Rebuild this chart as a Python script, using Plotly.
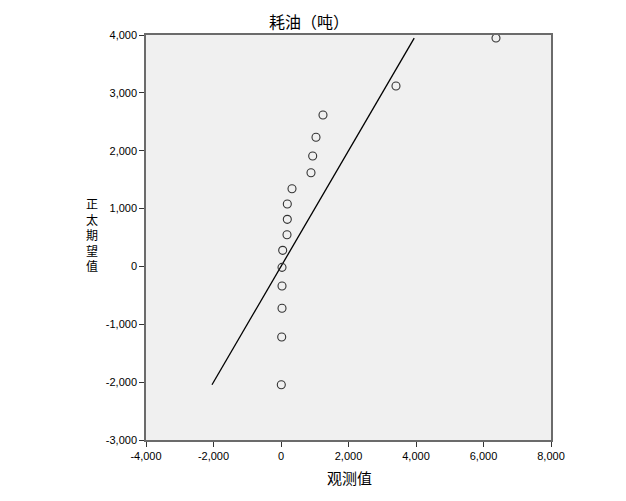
import plotly.graph_objects as go

observed = [9, 21, 30, 30, 30, 50, 178, 187, 187, 326, 889, 939, 1037, 1244, 3407, 6370]
expected = [-2045, -1220, -724, -339, -16, 278, 548, 814, 1078, 1343, 1619, 1908, 2233, 2617, 3118, 3947]

x_tickvals = [-4000, -2000, 0, 2000, 4000, 6000, 8000]
x_ticktext = ["-4,000", "-2,000", "0", "2,000", "4,000", "6,000", "8,000"]
y_tickvals = [-3000, -2000, -1000, 0, 1000, 2000, 3000, 4000]
y_ticktext = ["-3,000", "-2,000", "-1,000", "0", "1,000", "2,000", "3,000", "4,000"]

title_text = "耗油（吨）"
x_title = "观测值"
y_title = "正太期望值"

ref_line = [min(expected), max(expected)]

fig = go.Figure()
fig.add_trace(go.Scatter(
    x=ref_line, y=ref_line, mode="lines",
    line=dict(color="black", width=1.3), hoverinfo="skip", showlegend=False))
fig.add_trace(go.Scatter(
    x=observed, y=expected, mode="markers",
    marker=dict(symbol="circle-open", size=8, color="#333333", line=dict(width=1.1)),
    showlegend=False))

axis_common = dict(
    showgrid=False, zeroline=False, showline=True, mirror=True,
    linecolor="#6b6b6b", linewidth=1.5,
    ticks="outside", ticklen=5, tickwidth=1, tickcolor="#333333",
    tickfont=dict(family="Liberation Sans, Arial", size=11, color="black"),
)

cjk = dict(family="Noto Sans CJK SC", color="black")

# page body has an 8px margin; plot area should land at x 146..551, y 35..440
annotations = [
    dict(text=x_title, xref="paper", yref="paper", x=(349 - 146) / 405, y=(440 - 477) / 405,
         xanchor="center", yanchor="middle", showarrow=False, font=dict(size=15, **cjk)),
    dict(text="<br>".join(list(y_title)), xref="paper", yref="paper",
         x=(92 - 146) / 405, y=(440 - 234) / 405,
         xanchor="center", yanchor="middle", showarrow=False, align="center",
         font=dict(size=12, **cjk)),
]

fig.update_layout(
    width=626, height=501,
    margin=dict(l=138, r=83, t=27, b=69),
    paper_bgcolor="white", plot_bgcolor="#F0F0F0",
    title=dict(text=title_text, x=301 / 626, xref="container", xanchor="center",
               y=1 - 14 / 501, yref="container", yanchor="middle",
               font=dict(size=16, **cjk)),
    xaxis=dict(range=[-4000, 8000], tickvals=x_tickvals, ticktext=x_ticktext, **axis_common),
    yaxis=dict(range=[-3000, 4000], tickvals=y_tickvals, ticktext=y_ticktext, **axis_common),
    annotations=annotations,
)

fig.write_html("out.html")
